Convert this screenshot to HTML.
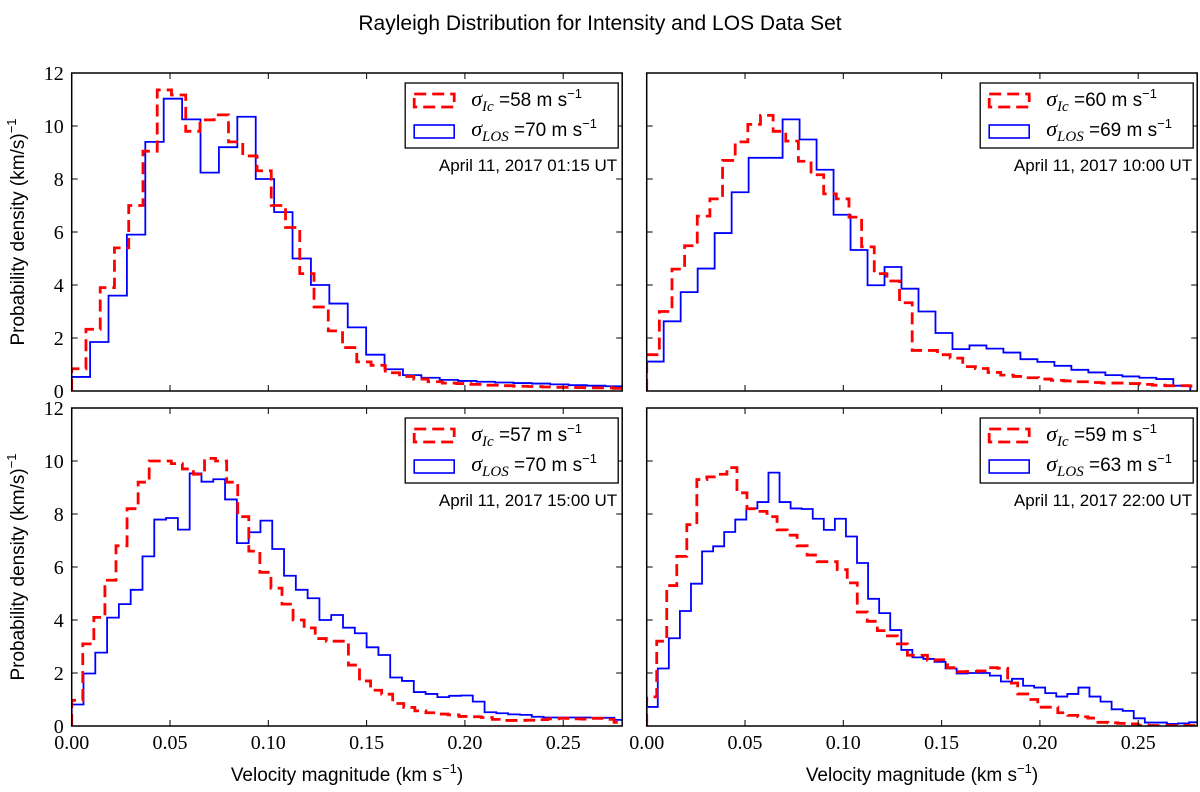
<!DOCTYPE html>
<html><head><meta charset="utf-8"><style>
body{margin:0;background:#fff}
svg{display:block}
.tick{font-family:"Liberation Serif",serif;font-size:20px}
.sans{font-family:"Liberation Sans",sans-serif}
</style></head><body>
<svg id="fig" width="1200" height="792" viewBox="0 0 1200 792">
<text x="600" y="30" text-anchor="middle" class="sans" font-size="21">Rayleigh Distribution for Intensity and LOS Data Set</text>
<text transform="translate(24,232) rotate(-90)" text-anchor="middle" class="sans" font-size="19">Probability density (km/s)<tspan dy="-8" font-size="13">−1</tspan></text>
<text transform="translate(24,567) rotate(-90)" text-anchor="middle" class="sans" font-size="19">Probability density (km/s)<tspan dy="-8" font-size="13">−1</tspan></text>
<text x="347" y="781" text-anchor="middle" class="sans" font-size="19">Velocity magnitude (km s<tspan dy="-8" font-size="13">−1</tspan><tspan dy="8">)</tspan></text>
<text x="922" y="781" text-anchor="middle" class="sans" font-size="19">Velocity magnitude (km s<tspan dy="-8" font-size="13">−1</tspan><tspan dy="8">)</tspan></text>
</svg>
<script>
const xTicks=[0,0.05,0.10,0.15,0.20,0.25];
const xTickLabels=["0.00","0.05","0.10","0.15","0.20","0.25"];
const yTicks=[0,2,4,6,8,10,12];
const xMax=0.28, yMax=12;
const panelDates=["April 11, 2017 01:15 UT","April 11, 2017 10:00 UT","April 11, 2017 15:00 UT","April 11, 2017 22:00 UT"];
const sigmaIc=[58,60,57,59];
const sigmaLOS=[70,69,70,63];
const redWidth=[0.00725,0.00643,0.00563,0.0051];
const blueWidth=[0.00936,0.00864,0.006,0.00563];
const red1=[0.84,2.33,3.9,5.4,7.0,9.05,11.36,11.17,9.8,10.23,10.42,9.4,8.87,8.31,7.0,6.17,4.43,3.17,2.27,1.64,1.1,0.97,0.69,0.55,0.45,0.35,0.3,0.28,0.25,0.22,0.2,0.18,0.17,0.15,0.14,0.13,0.12,0.12,0.1];
const blue1=[0.53,1.85,3.6,5.9,9.4,11.03,10.25,8.24,9.2,10.35,8.0,6.75,5.0,4.0,3.3,2.4,1.37,0.82,0.6,0.5,0.42,0.38,0.35,0.32,0.3,0.28,0.25,0.22,0.2,0.18];
const red2=[1.37,3.0,4.6,5.48,6.6,7.25,8.7,9.4,10.06,10.4,9.8,9.43,8.67,8.16,7.44,7.25,6.56,5.44,4.43,4.15,3.33,1.53,1.53,1.37,1.24,0.92,0.85,0.7,0.6,0.55,0.5,0.45,0.4,0.38,0.35,0.32,0.3,0.3,0.28,0.25,0.22,0.2,0.2,0.18];
const blue2=[1.11,2.63,3.73,4.62,5.96,7.5,8.8,8.8,10.25,9.49,8.35,6.65,5.32,3.99,4.68,3.86,3.0,2.19,1.58,1.72,1.6,1.45,1.2,1.1,0.95,0.8,0.7,0.6,0.55,0.5,0.45,0.2];
const red3=[0.97,3.1,4.1,5.5,6.8,8.2,9.2,10.0,10.0,9.9,9.7,9.5,10.1,10.0,9.2,7.9,6.6,5.8,5.2,4.6,4.0,3.7,3.3,3.2,3.2,2.3,1.7,1.35,1.2,0.85,0.7,0.57,0.5,0.45,0.42,0.36,0.35,0.32,0.25,0.21,0.21,0.22,0.24,0.27,0.29,0.27,0.26,0.29,0.25,0.14];
const blue3=[0.81,1.98,2.77,4.09,4.6,5.14,6.4,7.79,7.85,7.41,9.53,9.22,9.31,8.55,6.9,7.31,7.75,6.68,5.67,5.14,4.82,4.0,4.19,3.71,3.5,2.97,2.68,1.83,1.7,1.28,1.21,1.09,1.14,1.15,0.92,0.52,0.48,0.44,0.42,0.35,0.32,0.32,0.32,0.32,0.31,0.31,0.23];
const red4=[1.1,3.2,5.3,6.4,7.6,9.3,9.4,9.5,9.75,8.8,8.2,8.1,7.9,7.4,7.2,6.8,6.45,6.2,6.2,5.9,5.4,4.3,3.95,3.6,3.4,3.1,2.67,2.67,2.48,2.5,2.2,2.05,2.06,2.08,2.2,2.18,1.62,1.21,1.0,0.71,0.71,0.5,0.4,0.35,0.3,0.14,0.12,0.1,0.08,0.03,0.02,0.02,0.02,0.02,0.02];
const blue4=[0.72,2.17,3.31,4.34,5.37,6.59,6.78,7.32,7.79,8.21,8.45,9.56,8.45,8.21,8.19,7.82,7.4,7.82,7.15,6.15,4.8,4.26,3.62,2.87,2.59,2.53,2.42,2.17,1.98,2.0,2.0,1.9,1.68,1.78,1.52,1.45,1.24,1.11,1.21,1.45,1.11,0.92,0.63,0.57,0.29,0.13,0.13,0.08,0.1,0.14];
const reds=[red1,red2,red3,red4], blues=[blue1,blue2,blue3,blue4];
const NS="http://www.w3.org/2000/svg";
const fig=document.getElementById('fig');
function mk(tag,attrs,parent){const e=document.createElementNS(NS,tag);for(const k in attrs)e.setAttribute(k,attrs[k]);(parent||fig).appendChild(e);return e;}
const lefts=[71.7,646.7,71.7,646.7], tops=[73,73,408,408], W=550.5, H=318;
for(let p=0;p<4;p++){
  const L=lefts[p],T=tops[p];
  const xs=v=>L+v/xMax*W, ys=v=>T+H-v/yMax*H;
  const g=mk('g',{});
  
  
  const cp=mk('clipPath',{id:'clip'+p},g);mk('rect',{x:L,y:T,width:W,height:H},cp);
  function hist(vals,w,color,dash,sw,name){
    let d='M'+xs(0)+','+ys(0);
    vals.forEach((v,i)=>{d+=' L'+xs(i*w)+','+ys(v)+' L'+xs((i+1)*w)+','+ys(v);});
    d+=' L'+xs(vals.length*w)+','+ys(0);
    const a={d:d,fill:'none',stroke:color,'stroke-width':sw,'clip-path':'url(#clip'+p+')','stroke-linejoin':'miter'};
    if(dash)a['stroke-dasharray']=dash;
    const e=mk('path',a,g);
    
    
  }
  hist(blues[p],blueWidth[p],'#0000ff',null,1.8,'los-histogram');
  hist(reds[p],redWidth[p],'#ff0000','12 6',2.8,'intensity-histogram');
  const fr=mk('rect',{x:L,y:T,width:W,height:H,fill:'none',stroke:'#000','stroke-width':1.5},g);
  
  
  xTicks.forEach((t,i)=>{
    const x=xs(t);
    mk('line',{x1:x,y1:T+H,x2:x,y2:T+H-6,stroke:'#000','stroke-width':1},g);
    mk('line',{x1:x,y1:T,x2:x,y2:T+6,stroke:'#000','stroke-width':1},g);
    if(p>=2){const tx=mk('text',{x:x,y:T+H+23,'text-anchor':'middle',class:'tick'},g);tx.textContent=xTickLabels[i];
      
      }
  });
  yTicks.forEach(t=>{
    const y=ys(t);
    mk('line',{x1:L,y1:y,x2:L+6,y2:y,stroke:'#000','stroke-width':1},g);
    mk('line',{x1:L+W,y1:y,x2:L+W-6,y2:y,stroke:'#000','stroke-width':1},g);
    if(p%2==0){const tx=mk('text',{x:L-8,y:y+7,'text-anchor':'end',class:'tick'},g);tx.textContent=String(t);
      
      }
  });
  const bx=L+W-217, by=T+10;
  const lg=mk('g',{},g);
  
  
  mk('rect',{x:bx,y:by,width:213,height:65,fill:'#fff',stroke:'#000','stroke-width':1.3},lg);
  mk('rect',{x:bx+9,y:by+11,width:40,height:13,fill:'none',stroke:'#ff0000','stroke-width':2.8,'stroke-dasharray':'12 6'},lg);
  mk('rect',{x:bx+9,y:by+42,width:40,height:13,fill:'none',stroke:'#0000ff','stroke-width':1.6},lg);
  const t1=mk('text',{x:bx+66,y:by+23,'font-size':19},lg);
  t1.innerHTML='<tspan font-family="Liberation Serif,serif" font-style="italic" font-size="22">σ</tspan><tspan font-family="Liberation Serif,serif" font-style="italic" font-size="15" dy="5">Ic</tspan><tspan class="sans" dy="-5"> ='+sigmaIc[p]+' m s</tspan><tspan class="sans" font-size="13" dy="-8">−1</tspan>';
  
  
  const t2=mk('text',{x:bx+66,y:by+53,'font-size':19},lg);
  t2.innerHTML='<tspan font-family="Liberation Serif,serif" font-style="italic" font-size="22">σ</tspan><tspan font-family="Liberation Serif,serif" font-style="italic" font-size="15" dy="5">LOS</tspan><tspan class="sans" dy="-5"> ='+sigmaLOS[p]+' m s</tspan><tspan class="sans" font-size="13" dy="-8">−1</tspan>';
  
  
  const dt=mk('text',{x:L+W-5,y:T+98,'text-anchor':'end',class:'sans','font-size':17},g);
  dt.textContent=panelDates[p];
  
  
}
</script>
</body></html>
